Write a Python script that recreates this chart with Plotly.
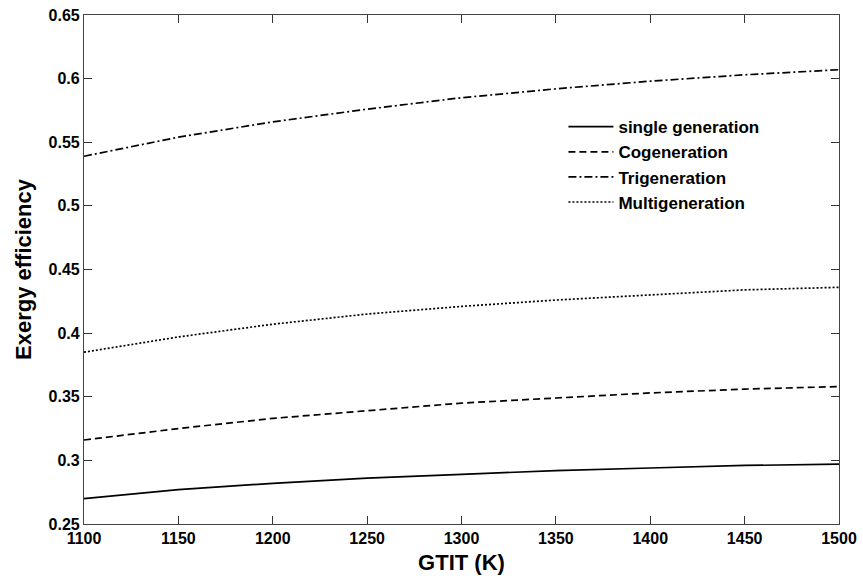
import plotly.graph_objects as go

gtit = [1100, 1150, 1200, 1250, 1300, 1350, 1400, 1450, 1500]
single = [0.270, 0.277, 0.282, 0.286, 0.289, 0.292, 0.294, 0.296, 0.297]
cogen = [0.316, 0.325, 0.333, 0.339, 0.345, 0.349, 0.353, 0.356, 0.358]
trigen = [0.539, 0.554, 0.566, 0.576, 0.585, 0.592, 0.598, 0.603, 0.607]
multigen = [0.385, 0.397, 0.407, 0.415, 0.421, 0.426, 0.430, 0.434, 0.436]
x_ticks = [1100, 1150, 1200, 1250, 1300, 1350, 1400, 1450, 1500]
y_ticks = [0.25, 0.3, 0.35, 0.4, 0.45, 0.5, 0.55, 0.6, 0.65]
y_labels = ["0.25", "0.3", "0.35", "0.4", "0.45", "0.5", "0.55", "0.6", "0.65"]

series = [
    ("single generation", single, "solid"),
    ("Cogeneration", cogen, "7px,4px"),
    ("Trigeneration", trigen, "8px,3px,2px,3px"),
    ("Multigeneration", multigen, "2px,2px"),
]

fig = go.Figure()
for name, vals, dash in series:
    fig.add_trace(go.Scatter(x=gtit, y=vals, mode="lines", name="<b>" + name + "</b>",
                             line=dict(color="black", width=1.7, dash=dash)))

font_family = "Liberation Sans, Arial, sans-serif"
axis_common = dict(showline=True, linecolor="#444", linewidth=1.2, mirror="ticks",
                   ticks="inside", ticklen=8, tickwidth=1.2, tickcolor="#333",
                   showgrid=False, zeroline=False, automargin=False,
                   tickfont=dict(family=font_family, size=16, color="black"))

fig.update_layout(
    width=863, height=580,
    margin=dict(l=84, r=24, t=15, b=56),
    plot_bgcolor="white", paper_bgcolor="white",
    xaxis=dict(range=[1100, 1500], tickvals=x_ticks, ticktext=["<b>%d</b>" % v for v in x_ticks],
               title=dict(text="<b>GTIT (K)</b>", font=dict(family=font_family, size=22, color="black"),
                          standoff=8),
               **axis_common),
    yaxis=dict(range=[0.25, 0.65], tickvals=y_ticks, ticktext=["<b>%s</b>" % s for s in y_labels],
               title=dict(text="<b>Exergy efficiency</b>", font=dict(family=font_family, size=22, color="black"),
                          standoff=10),
               **axis_common),
    legend=dict(x=0.635, y=0.815, xanchor="left", yanchor="top", bgcolor="rgba(0,0,0,0)",
                font=dict(family=font_family, size=17, color="black"),
                itemwidth=45, tracegroupgap=0),
    showlegend=True,
)

fig.write_html("out.html")
